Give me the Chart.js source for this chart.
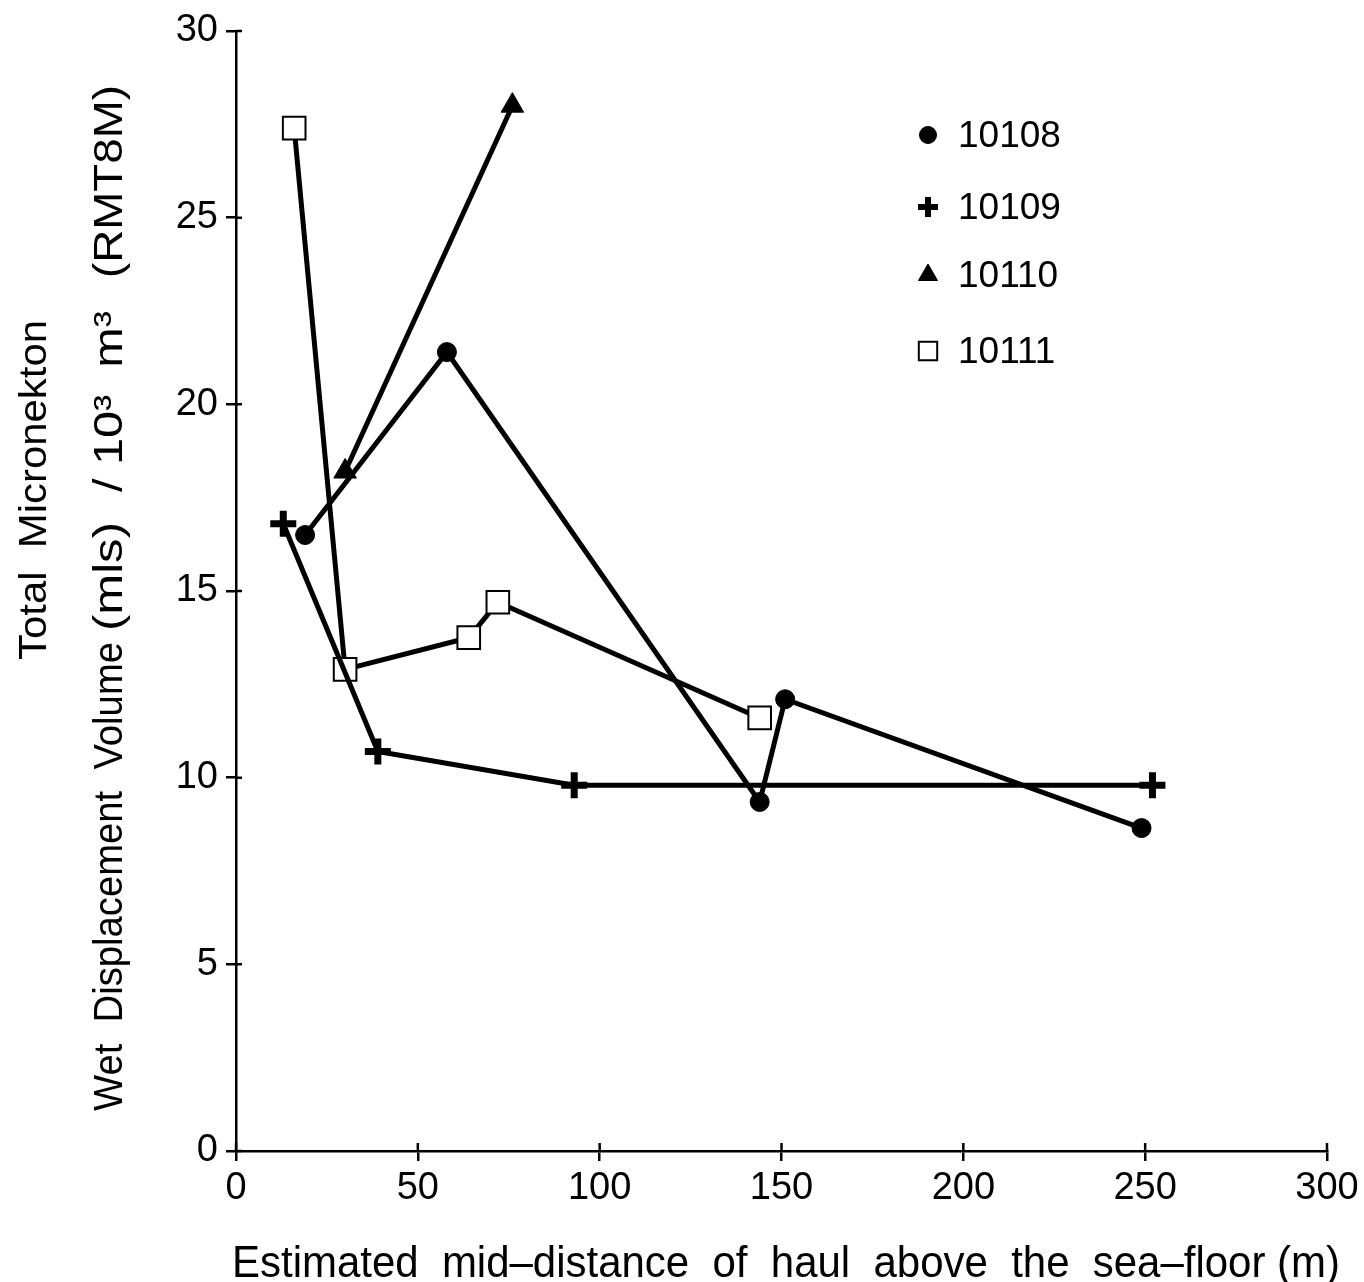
<!DOCTYPE html>
<html>
<head>
<meta charset="utf-8">
<script src="https://cdn.jsdelivr.net/npm/chart.js@4.4.0/dist/chart.umd.min.js"></script>
<style>
  body { margin: 0; background: #fff; }
  canvas { display: block; }
</style>
</head>
<body>
<canvas id="myChart" width="1364" height="1282"></canvas>
<script>
// haul series
var seriesNames = ['10108', '10109', '10110', '10111'];
var x_10108 = [19, 58, 144, 151, 249];
var y_10108 = [16.5, 21.4, 9.35, 12.1, 8.65];
var x_10109 = [13, 39, 93, 252];
var y_10109 = [16.8, 10.7, 9.8, 9.8];
var x_10110 = [30, 76];
var y_10110 = [18.2, 28];
var x_10111 = [16, 30, 64, 72, 144];
var y_10111 = [27.4, 12.9, 13.75, 14.7, 11.6];
var xTicks = [0, 50, 100, 150, 200, 250, 300];
var yTicks = [0, 5, 10, 15, 20, 25, 30];

var FONT = '"Liberation Sans", Arial, sans-serif';

function pts(xs, ys) {
    return xs.map(function (x, i) { return { x: x, y: ys[i] }; });
}

var markers = [
    { pointStyle: 'circle', radius: 9.5, borderWidth: 1, bg: '#000' },
    { pointStyle: 'cross', radius: 13, borderWidth: 7, bg: '#000' },
    { pointStyle: 'triangle', radius: 13, borderWidth: 1, bg: '#000' },
    { pointStyle: 'rect', radius: 16, borderWidth: 2, bg: '#fff' }
];
var allData = [pts(x_10108, y_10108), pts(x_10109, y_10109), pts(x_10110, y_10110), pts(x_10111, y_10111)];

var datasets = seriesNames.map(function (name, i) {
    var m = markers[i];
    return {
        label: name,
        data: allData[i],
        showLine: true,
        borderColor: '#000',
        borderWidth: 5,
        pointStyle: m.pointStyle,
        pointRadius: m.radius,
        pointBorderWidth: m.borderWidth,
        pointBackgroundColor: m.bg,
        pointBorderColor: '#000',
        tension: 0
    };
});

// draw text squeezed/stretched to a given length, starting at (x, y)
function fitText(ctx, text, x, y, len) {
    var w = ctx.measureText(text).width;
    ctx.save();
    ctx.translate(x, y);
    ctx.scale(len / w, 1);
    ctx.textAlign = 'left';
    ctx.fillText(text, 0, 0);
    ctx.restore();
}

// legend, axis titles and inner tick halves
var extras = {
    id: 'extras',
    afterDraw: function (chart) {
        var ctx = chart.ctx;
        var xs = chart.scales.x, ys = chart.scales.y;
        ctx.save();
        ctx.strokeStyle = '#000';
        ctx.lineWidth = 2.5;
        ctx.beginPath();
        yTicks.forEach(function (v) {
            var p = ys.getPixelForValue(v);
            ctx.moveTo(xs.left, p); ctx.lineTo(xs.left + 6, p);
        });
        xTicks.forEach(function (v) {
            var p = xs.getPixelForValue(v);
            ctx.moveTo(p, ys.bottom); ctx.lineTo(p, ys.bottom - 8);
        });
        ctx.stroke();

        // legend
        var rows = [135, 207, 275, 351];
        var legendSize = [8.5, 10, 11, 13];
        ctx.font = '37px ' + FONT;
        ctx.textBaseline = 'middle';
        ctx.textAlign = 'left';
        seriesNames.forEach(function (name, i) {
            var m = markers[i];
            ctx.fillStyle = m.bg;
            ctx.strokeStyle = '#000';
            ctx.lineWidth = m.pointStyle === 'cross' ? 6 : m.borderWidth;
            Chart.helpers.drawPoint(ctx, { pointStyle: m.pointStyle, radius: legendSize[i], rotation: 0, borderWidth: ctx.lineWidth }, 928, rows[i]);
            ctx.fillStyle = '#000';
            ctx.fillText(name, 958, rows[i] + 2);
        });

        ctx.textBaseline = 'alphabetic';
        // x title
        ctx.font = '44px ' + FONT;
        fitText(ctx, 'Estimated  mid\u2013distance  of  haul  above  the  sea\u2013floor (m)', 232, 1277, 1108);

        // y title (two lines, rotated)
        ctx.save();
        ctx.rotate(-Math.PI / 2);
        ctx.font = '38px ' + FONT;
        fitText(ctx, 'Total  Micronekton', -660, 46, 340);
        ctx.font = '40px ' + FONT;
        fitText(ctx, 'Wet  Displacement  Volume', -1111, 122, 469);
        fitText(ctx, '(mls)', -631, 122, 109);
        fitText(ctx, '/ 10\u00b3  m\u00b3', -492, 122, 181);
        fitText(ctx, '(RMT8M)', -278, 122, 193);
        ctx.restore();
        ctx.restore();
    }
};

var chart = new Chart(document.getElementById('myChart').getContext('2d'), {
    type: 'scatter',
    data: { datasets: datasets },
    plugins: [extras],
    options: {
        responsive: false,
        animation: false,
        layout: { padding: { top: 31, right: 37, left: 0, bottom: 0 } },
        plugins: {
            legend: { display: false },
            tooltip: { enabled: false }
        },
        scales: {
            x: {
                type: 'linear',
                min: 0,
                max: 300,
                afterBuildTicks: function (scale) {
                    scale.ticks = xTicks.map(function (v) { return { value: v }; });
                },
                afterFit: function (scale) { scale.height = 131; },
                grid: { drawOnChartArea: false, tickLength: 10, color: '#000', lineWidth: 2.5 },
                border: { color: '#000', width: 2.5 },
                ticks: { color: '#000', padding: 5, font: { size: 38, family: FONT } }
            },
            y: {
                type: 'linear',
                min: 0,
                max: 30,
                afterBuildTicks: function (scale) {
                    scale.ticks = yTicks.map(function (v) { return { value: v }; });
                },
                afterFit: function (scale) { scale.width = 236; },
                grid: { drawOnChartArea: false, tickLength: 10, color: '#000', lineWidth: 2.5 },
                border: { color: '#000', width: 2.5 },
                ticks: { color: '#000', padding: 8, font: { size: 38, family: FONT } }
            }
        }
    }
});
</script>
</body>
</html>
